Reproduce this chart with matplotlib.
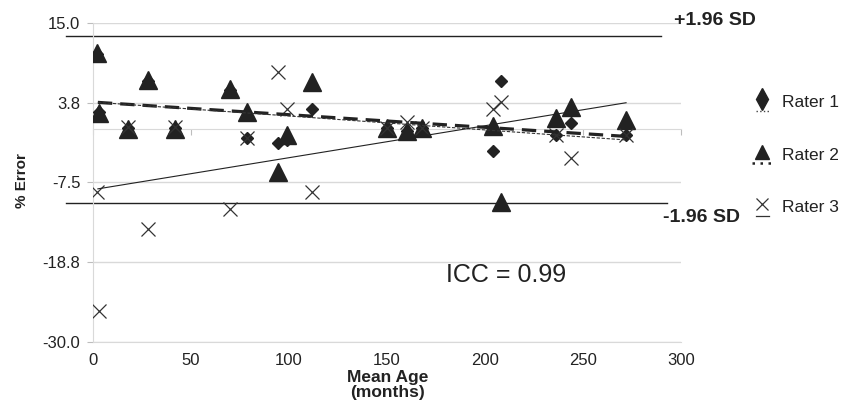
import matplotlib
matplotlib.use("Agg")
import matplotlib.pyplot as plt
from matplotlib.lines import Line2D
from matplotlib.legend_handler import HandlerBase

plt.rcParams['font.family'] = ['Liberation Sans', 'DejaVu Sans']

# mean age (months) of each subject and % error per rater
age = [2, 3, 18, 28, 42, 70, 78.5, 94.5, 99, 112, 150, 160, 168, 204, 208, 236, 244, 272]
rater1 = [10.6, 2.4, 0.2, 6.8, 0.2, 5.5, -1.2, -1.9, -1.5, 2.8, 0.2, -0.2, 0.2, -3.1, 6.8, -0.8, 0.9, -0.8]
rater2 = [10.8, 2.3, 0.0, 7.0, 0.0, 5.7, 2.5, -6.0, -0.8, 6.7, 0.2, -0.3, 0.2, 0.4, -10.3, 1.6, 3.2, 1.3]
rater3 = [-8.9, -25.6, 0.3, -14.1, 0.3, -11.3, -1.2, 8.1, 2.9, -8.9, 0.2, 1.1, 0.2, 2.9, 3.9, -0.8, -4.0, -0.8]

# linear trend lines (end points)
trend_x = [2.5, 272]
trend1 = [3.8, -1.5]
trend2 = [3.8, -1.0]
trend3 = [-8.4, 3.75]

# limits of agreement
sd_upper = 13.2
sd_lower = -10.45
sd_upper_x = [-14, 290]
sd_lower_x = [-14, 293]

yticks = [15.0, 3.75, -7.5, -18.75, -30.0]
ytick_labels = ['15.0', '3.8', '-7.5', '-18.8', '-30.0']
xticks = [0, 50, 100, 150, 200, 250, 300]

dark = '#222222'
grid = '#d9d9d9'

fig = plt.figure(figsize=(8.56, 4.04), dpi=100)
ax = fig.add_axes([0.1086, 0.1535, 0.6869, 0.7896])
ax.set_xlim(0, 300)
ax.set_ylim(-30, 15)

ax.set_yticks(yticks)
ax.set_yticklabels(ytick_labels)
ax.set_xticks(xticks)
ax.yaxis.grid(True, color=grid, lw=1)
ax.set_axisbelow(True)

for s in ['left', 'bottom']:
    ax.spines[s].set_color(grid)
ax.spines['right'].set_visible(False)
ax.spines['top'].set_position(('data', 0))
ax.spines['top'].set_color(grid)

ax.tick_params(axis='x', bottom=False, top=True, labeltop=False, labelbottom=True,
               direction='in', length=4, color='#bdbdbd', labelsize=12, pad=8,
               labelcolor=dark)
ax.tick_params(axis='y', length=4, color='#bdbdbd', labelsize=12, pad=5, labelcolor=dark)

# points
ax.plot(age, rater1, linestyle='none', marker='D', markersize=6.3, color=dark, zorder=3)
ax.plot(age, rater2, linestyle='none', marker='^', markersize=12.5, color=dark, zorder=4)
ax.plot(age, rater3, linestyle='none', marker='x', markersize=10, color='#333333',
        markeredgewidth=0.9, zorder=5)

# trend lines
ax.plot(trend_x, trend2, color=dark, lw=2.3, dashes=(4.5, 2.5), zorder=6)
ax.plot(trend_x, trend1, color='#333333', lw=0.8, dashes=(3, 1.5), zorder=6)
ax.plot(trend_x, trend3, color=dark, lw=0.8, zorder=6)

# +/- 1.96 SD lines
ax.plot(sd_upper_x, [sd_upper, sd_upper], color=dark, lw=1, clip_on=False, zorder=2)
ax.plot(sd_lower_x, [sd_lower, sd_lower], color=dark, lw=1, clip_on=False, zorder=2)
ax.text(296.5, 15.4, '+1.96 SD', fontsize=14, fontweight='bold', color=dark,
        va='center', ha='left', clip_on=False)
ax.text(291, -12.4, '-1.96 SD', fontsize=14, fontweight='bold', color=dark,
        va='center', ha='left', clip_on=False)

ax.text(210.7, -20.6, 'ICC = 0.99', fontsize=18, color=dark, ha='center', va='center')

ax.set_xlabel('Mean Age\n(months)', fontsize=12.5, fontweight='bold', color=dark,
              linespacing=1.0, va='top')
ax.xaxis.set_label_coords(0.5017, -0.087)
ax.set_ylabel('% Error', fontsize=11, fontweight='bold', color=dark)
ax.yaxis.set_label_coords(-0.108, 0.506)


class MarkerOverLine(HandlerBase):
    def create_artists(self, legend, orig_handle, xdescent, ydescent, width, height,
                       fontsize, trans):
        mk, ln, frac = orig_handle
        cx = width / 2 - xdescent
        cy = height / 2 - ydescent
        m = Line2D([cx], [cy + 0.1 * fontsize])
        m.update_from(mk)
        l = Line2D([cx - frac * width, cx + frac * width], [cy - 0.55 * fontsize] * 2)
        l.update_from(ln)
        m.set_transform(trans)
        l.set_transform(trans)
        return [m, l]


h1 = (Line2D([], [], linestyle='none', marker='d', markersize=11, color=dark),
      Line2D([], [], color='#444444', lw=1, linestyle=':'), 0.32)
h2 = (Line2D([], [], linestyle='none', marker='^', markersize=10.5, color=dark),
      Line2D([], [], color=dark, lw=1.8, linestyle=(0, (1, 2.2))), 0.5)
h3 = (Line2D([], [], linestyle='none', marker='x', markersize=8.5, color='#333333',
             markeredgewidth=0.9),
      Line2D([], [], color='#333333', lw=0.9), 0.3)

fig.legend([h1, h2, h3], ['Rater 1', 'Rater 2', 'Rater 3'],
           handler_map={tuple: MarkerOverLine()},
           loc='center left', bbox_to_anchor=(752 / 856, 1 - 155 / 404),
           bbox_transform=fig.transFigure, frameon=False, fontsize=12.5,
           labelspacing=2.15, handlelength=1.2, handletextpad=0.5,
           borderpad=0, borderaxespad=0, labelcolor=dark)

fig.savefig('out.png', dpi=100)
